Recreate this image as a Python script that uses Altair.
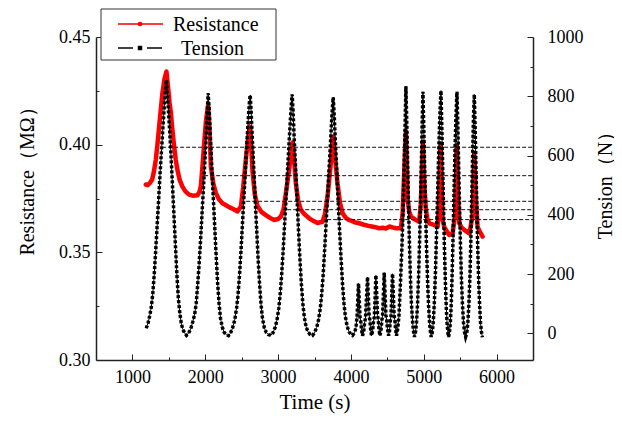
import altair as alt
import pandas as pd

FONT = "Liberation Serif"
W, H = 437, 323

# ---------------- data ----------------
# Resistance (M ohm) vs time (s), red curve, split into segments
res_c1 = [(1184, 0.3815), (1210, 0.3812), (1240, 0.3822), (1271, 0.3838), (1295, 0.3875),
          (1321, 0.3930), (1345, 0.4005), (1367, 0.4085), (1390, 0.4165), (1412, 0.4240),
          (1440, 0.4305), (1467, 0.4340), (1490, 0.4265), (1510, 0.4195), (1527, 0.4150),
          (1550, 0.4065), (1573, 0.3990), (1595, 0.3930), (1618, 0.3882), (1650, 0.3835),
          (1687, 0.3805), (1730, 0.3782), (1779, 0.3768), (1830, 0.3763), (1893, 0.3765)]
res_c2 = [(1920, 0.3780), (1940, 0.3808), (1962, 0.3900), (1985, 0.4005), (2010, 0.4110),
          (2040, 0.4185), (2058, 0.4080), (2077, 0.3900), (2110, 0.3820), (2145, 0.3776),
          (2190, 0.3745), (2236, 0.3728), (2280, 0.3720), (2328, 0.3710), (2390, 0.3700),
          (2442, 0.3690)]
res_c3 = [(2489, 0.3712), (2520, 0.3800), (2557, 0.3930), (2585, 0.4020), (2610, 0.4085),
          (2630, 0.4000), (2648, 0.3880), (2680, 0.3770), (2717, 0.3715), (2770, 0.3688),
          (2832, 0.3673), (2890, 0.3660), (2946, 0.3650), (3000, 0.3655), (3039, 0.3666)]
res_c4 = [(3075, 0.3700), (3107, 0.3775), (3150, 0.3880), (3198, 0.4010), (3220, 0.3930),
          (3244, 0.3820), (3275, 0.3740), (3313, 0.3697), (3370, 0.3675), (3427, 0.3658),
          (3490, 0.3645), (3541, 0.3636), (3610, 0.3642)]
res_c5 = [(3645, 0.3680), (3679, 0.3760), (3720, 0.3900), (3757, 0.4037), (3785, 0.3930),
          (3816, 0.3820), (3850, 0.3730), (3885, 0.3682), (3930, 0.3660), (3976, 0.3650),
          (4050, 0.3640), (4114, 0.3635), (4180, 0.3628), (4251, 0.3622), (4320, 0.3618),
          (4389, 0.3612), (4440, 0.3614), (4480, 0.3611), (4530, 0.3620), (4570, 0.3616),
          (4620, 0.3612), (4687, 0.3612)]
res_c6 = [(4710, 0.3681), (4735, 0.3900), (4755, 0.4060), (4768, 0.3900), (4778, 0.3750),
          (4800, 0.3690), (4824, 0.3666), (4893, 0.3650), (4938, 0.3642), (4961, 0.3729),
          (4975, 0.3880), (4989, 0.4014), (5010, 0.3800), (5030, 0.3697), (5050, 0.3655),
          (5076, 0.3635), (5144, 0.3627), (5190, 0.3619), (5204, 0.3680), (5220, 0.3860),
          (5236, 0.4006), (5248, 0.3800), (5259, 0.3650), (5280, 0.3620), (5305, 0.3604),
          (5350, 0.3581), (5396, 0.3588), (5433, 0.3680), (5445, 0.3850), (5456, 0.3998),
          (5470, 0.3780), (5488, 0.3635), (5520, 0.3615), (5556, 0.3604), (5625, 0.3588),
          (5670, 0.3666), (5683, 0.3820), (5694, 0.3952), (5715, 0.3760), (5739, 0.3619),
          (5770, 0.3595), (5808, 0.3573)]

# Tension (N) vs time (s), black curve
ten_c1 = [(1190, 17), (1215, 35), (1240, 62), (1260, 90), (1280, 135), (1300, 200), (1320, 280),
          (1340, 365), (1360, 450), (1380, 540), (1400, 620), (1420, 700), (1440, 775), (1455, 825),
          (1467, 855), (1480, 810), (1495, 750), (1510, 690), (1530, 600), (1550, 500), (1570, 400),
          (1590, 300), (1610, 200), (1630, 120), (1650, 70), (1670, 35), (1690, 15), (1715, 2),
          (1742, -7)]
ten_c2 = [(1770, 0), (1800, 15), (1830, 40), (1855, 65), (1875, 100), (1895, 160), (1915, 230),
          (1935, 310), (1955, 400), (1975, 490), (1995, 580), (2015, 680), (2030, 760), (2040, 810),
          (2055, 750), (2070, 660), (2090, 560), (2110, 460), (2130, 360), (2150, 260), (2170, 170),
          (2190, 100), (2210, 50), (2235, 20), (2260, 3), (2290, -5), (2319, -8)]
ten_c3 = [(2345, 0), (2375, 18), (2405, 45), (2430, 85), (2450, 130), (2470, 195), (2490, 275),
          (2510, 365), (2530, 455), (2550, 545), (2570, 635), (2590, 720), (2605, 775), (2617, 804),
          (2630, 750), (2645, 665), (2665, 560), (2685, 455), (2705, 355), (2725, 255), (2745, 170),
          (2765, 100), (2785, 52), (2810, 20), (2835, 4), (2865, -4), (2901, -7)]
ten_c4 = [(2930, 2), (2960, 20), (2985, 45), (3010, 85), (3030, 135), (3050, 200), (3070, 280),
          (3090, 370), (3110, 460), (3130, 550), (3150, 640), (3170, 725), (3183, 775), (3193, 806),
          (3206, 750), (3220, 665), (3240, 560), (3260, 455), (3280, 350), (3300, 250), (3320, 165),
          (3340, 100), (3360, 55), (3385, 22), (3410, 5), (3440, -4), (3473, -7)]
ten_c5 = [(3500, 2), (3530, 20), (3555, 45), (3580, 85), (3600, 135), (3620, 200), (3640, 285),
          (3660, 375), (3680, 465), (3700, 555), (3720, 645), (3738, 730), (3750, 775), (3757, 796),
          (3770, 740), (3785, 655), (3805, 550), (3825, 445), (3845, 345), (3865, 250), (3885, 165),
          (3905, 100), (3925, 55), (3950, 22), (3975, 5), (4000, -3), (4022, -7)]
ten_small = [(4050, 2), (4070, 20), (4085, 60), (4095, 120), (4104, 168), (4115, 110), (4125, 55),
             (4135, 40), (4145, 15), (4159, -8), (4175, 5), (4190, 40), (4200, 50), (4212, 110),
             (4228, 190), (4240, 120), (4250, 60), (4260, 45), (4270, 15), (4283, -8), (4298, 8),
             (4312, 45), (4322, 55), (4332, 120), (4343, 196), (4355, 125), (4365, 60), (4375, 48),
             (4385, 15), (4398, -8), (4412, 8), (4425, 45), (4435, 58), (4445, 125), (4457, 205),
             (4470, 130), (4480, 62), (4490, 48), (4502, 15), (4517, -8), (4530, 8), (4542, 45),
             (4550, 58), (4560, 125), (4571, 201), (4583, 125), (4593, 60), (4603, 45), (4613, 15),
             (4626, -8), (4642, 15), (4660, 60), (4680, 170), (4700, 290), (4720, 450), (4740, 660)]
ten_fast = [(4755, 834), (4768, 700), (4780, 560), (4792, 420), (4805, 290), (4818, 180), (4832, 95),
            (4848, 35), (4860, 5), (4872, -12), (4885, 0), (4900, 35), (4915, 100), (4930, 200),
            (4945, 330), (4958, 470), (4970, 610), (4980, 730), (4989, 815), (5000, 700), (5012, 560),
            (5025, 420), (5038, 290), (5052, 180), (5066, 95), (5080, 35), (5092, 5), (5102, -12),
            (5115, 0), (5130, 35), (5145, 100), (5160, 200), (5175, 330), (5190, 470), (5205, 610),
            (5220, 730), (5236, 819), (5248, 700), (5260, 560), (5272, 420), (5284, 290), (5296, 180),
            (5308, 95), (5320, 35), (5330, 5), (5340, -12), (5352, 0), (5365, 35), (5378, 100),
            (5390, 200), (5403, 330), (5415, 470), (5428, 610), (5442, 730), (5456, 815), (5468, 700),
            (5480, 560), (5492, 420), (5505, 290), (5518, 180), (5532, 95), (5546, 35), (5560, 5),
            (5575, -12), (5590, 0), (5605, 35), (5620, 100), (5635, 200), (5648, 330), (5660, 470),
            (5672, 610), (5683, 730), (5694, 806), (5706, 690), (5718, 550), (5730, 410), (5742, 280),
            (5755, 170), (5768, 90), (5780, 35), (5792, 5), (5805, -13)]

# dashed reference levels (resistance) and their start times
ref_start = [1408, 1985, 2562, 3125, 3674]
ref_level = [0.3988, 0.3856, 0.3737, 0.3698, 0.3652]
ref_end = 6500

x_major = [1000, 2000, 3000, 4000, 5000, 6000]
x_minor = [1500, 2500, 3500, 4500, 5500]
r_major = [0.30, 0.35, 0.40, 0.45]
r_minor = [0.325, 0.375, 0.425]
t_major = [0, 200, 400, 600, 800, 1000]
t_minor = [100, 300, 500, 700, 900]
legend_labels = ["Resistance", "Tension"]

# ---------------- tables ----------------
df_r = pd.DataFrame(res_c1 + res_c2 + res_c3 + res_c4 + res_c5 + res_c6, columns=["t", "R"])
df_t = pd.DataFrame(ten_c1 + ten_c2 + ten_c3 + ten_c4 + ten_c5 + ten_small + ten_fast,
                    columns=["t", "T"])
df_ref = pd.DataFrame({"t": ref_start, "t2": [ref_end] * len(ref_start), "R": ref_level})
one = pd.DataFrame({"k": [0]})

xs = alt.Scale(domain=[500, 6500], nice=False, zero=False)
rs = alt.Scale(domain=[0.30, 0.45], nice=False, zero=False)
ts = alt.Scale(domain=[-90, 1000], nice=False, zero=False)

common = dict(grid=False, labelFont=FONT, labelFontSize=18, labelColor="black",
              titleFont=FONT, titleFontWeight="normal", titleColor="black",
              domainColor="#222222", domainWidth=1.5)


def tick_axis(orient, offset, values, size):
    return alt.Axis(orient=orient, offset=offset, values=values, labels=False, domain=False,
                    ticks=True, tickSize=size, tickColor="#222222", tickWidth=1, grid=False,
                    title=None)


x_main = alt.Axis(orient="bottom", values=x_major, format="d", ticks=False, tickSize=0,
                  labelPadding=8, labelFlush=False, title="Time (s)", titleFontSize=21,
                  titleX=W / 2, titleY=42, titleBaseline="middle", titleAlign="center", **common)
y_left_main = alt.Axis(orient="left", values=r_major, format=".2f", ticks=False, tickSize=0,
                       labelPadding=6, title="Resistance（MΩ）", titleFontSize=20, titleAngle=-90,
                       titleX=-69, titleY=139, titleBaseline="middle", titleAlign="center",
                       **common)
y_right_main = alt.Axis(orient="right", values=t_major, format="d", ticks=False, tickSize=0,
                        labelPadding=14, title="Tension（N）", titleFontSize=20, titleAngle=-90,
                        titleX=72, titleY=143, titleBaseline="middle", titleAlign="center",
                        **common)

red = alt.Chart(df_r).mark_line(color="#ff0000", strokeWidth=4.5, strokeJoin="round",
                                strokeCap="round").encode(
    x=alt.X("t:Q", scale=xs, axis=x_main),
    y=alt.Y("R:Q", scale=rs, axis=y_left_main))

refs = alt.Chart(df_ref).mark_rule(color="#111111", strokeWidth=1, strokeDash=[4, 2]).encode(
    x=alt.X("t:Q", scale=xs, axis=tick_axis("top", -H, x_major, 6)),
    x2="t2:Q",
    y=alt.Y("R:Q", scale=rs, axis=tick_axis("right", -W, r_major, 6)))

red_minor = alt.Chart(df_r).mark_line(opacity=0).encode(
    x=alt.X("t:Q", scale=xs, axis=tick_axis("top", -H, x_minor, 3)),
    y=alt.Y("R:Q", scale=rs, axis=tick_axis("right", -W, r_minor, 3)))

black_thin = alt.Chart(df_t).mark_line(color="#000000", strokeWidth=1).encode(
    x=alt.X("t:Q", scale=xs, axis=None),
    y=alt.Y("T:Q", scale=ts, axis=y_right_main))

black_dots = alt.Chart(df_t).mark_line(color="#000000", strokeWidth=3.5, strokeDash=[3, 2],
                                       strokeCap="butt").encode(
    x=alt.X("t:Q", scale=xs, axis=None),
    y=alt.Y("T:Q", scale=ts, axis=tick_axis("left", -W, t_major, 6)))

black_minor = alt.Chart(df_t).mark_line(opacity=0).encode(
    x=alt.X("t:Q", scale=xs, axis=None),
    y=alt.Y("T:Q", scale=ts, axis=tick_axis("left", -W, t_minor, 3)))

# legend box (drawn in pixel space, top-left of the plot)
box = alt.Chart(one).mark_rect(fill="white", stroke="#333333", strokeWidth=1).encode(
    x=alt.value(5), x2=alt.value(180), y=alt.value(-28), y2=alt.value(23))
leg_r_line = alt.Chart(one).mark_rule(color="#ff3b3b", strokeWidth=2).encode(
    x=alt.value(22), x2=alt.value(67), y=alt.value(-13))
leg_r_dot = alt.Chart(one).mark_point(shape="circle", filled=True, color="#ff0000",
                                      size=22, opacity=1).encode(
    x=alt.value(44), y=alt.value(-13))
leg_r_text = alt.Chart(one).mark_text(align="left", baseline="middle", font=FONT, fontSize=20,
                                      color="black").encode(
    x=alt.value(77), y=alt.value(-12), text=alt.value(legend_labels[0]))
leg_t_d1 = alt.Chart(one).mark_rule(color="black", strokeWidth=1.5).encode(
    x=alt.value(22), x2=alt.value(37), y=alt.value(11))
leg_t_d2 = alt.Chart(one).mark_rule(color="black", strokeWidth=1.5).encode(
    x=alt.value(51), x2=alt.value(66), y=alt.value(11))
leg_t_sq = alt.Chart(one).mark_point(shape="square", filled=True, color="black",
                                     size=20, opacity=1).encode(
    x=alt.value(44), y=alt.value(11))
leg_t_text = alt.Chart(one).mark_text(align="left", baseline="middle", font=FONT, fontSize=20,
                                      color="black").encode(
    x=alt.value(85), y=alt.value(12), text=alt.value(legend_labels[1]))

chart = alt.layer(
    red, refs, red_minor, black_thin, black_dots, black_minor,
    box, leg_r_line, leg_r_dot, leg_r_text, leg_t_d1, leg_t_d2, leg_t_sq, leg_t_text
).resolve_scale(y="independent").resolve_axis(x="independent", y="independent").properties(
    width=W, height=H,
    padding={"left": 88, "top": 29, "right": 81, "bottom": 54},
    autosize=alt.AutoSizeParams(type="none"),
    background="white"
).configure_view(stroke=None)

chart.save("out.html", embed_options={"renderer": "svg", "actions": False})
